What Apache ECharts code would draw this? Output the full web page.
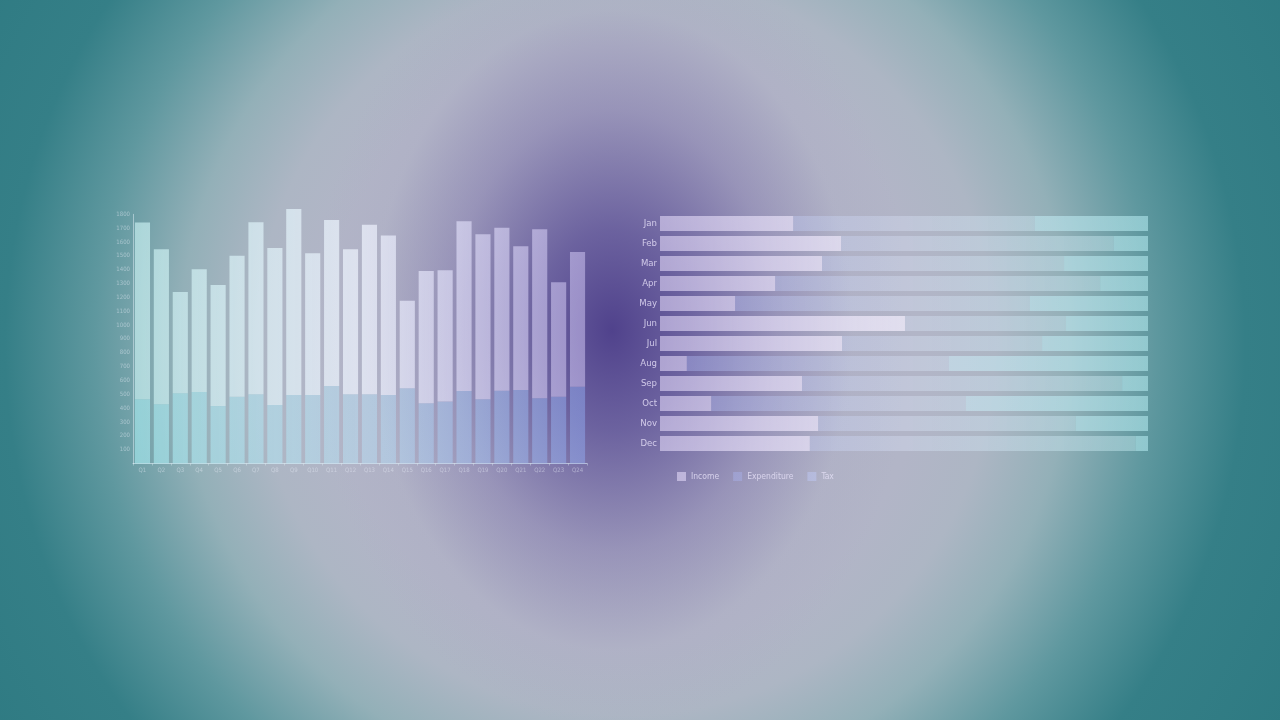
<!DOCTYPE html>
<html><head><meta charset="utf-8">
<script src="https://cdn.jsdelivr.net/npm/echarts@6/dist/echarts.min.js"></script>
<style>
html,body{margin:0;padding:0;width:1280px;height:720px;overflow:hidden;background:#2e7a82;}
#bg{position:absolute;left:0;top:0;width:1280px;height:720px;
background:
 radial-gradient(ellipse 300px 400px at 612px 330px, rgba(80,66,140,1) 0%, rgba(92,80,150,0.82) 25%, rgba(125,115,170,0.5) 55%, rgba(165,162,192,0.18) 80%, rgba(178,180,199,0) 100%),
 radial-gradient(circle 760px at 625px 345px, #b4b4c8 0px, #b2b5c7 300px, #adb6c4 370px, #93b0b8 445px, #5f989f 530px, #357f87 620px, #2e7a82 760px);}
#chart{position:absolute;left:0;top:0;width:1280px;height:720px;}
</style></head>
<body>
<div id="bg"></div>
<div id="chart"></div>
<script>
// ---- Left chart data ----
var quarters = ['Q1','Q2','Q3','Q4','Q5','Q6','Q7','Q8','Q9','Q10','Q11','Q12','Q13','Q14','Q15','Q16','Q17','Q18','Q19','Q20','Q21','Q22','Q23','Q24'];
var baseValues = [464,428,507,517,415,483,500,423,495,495,560,500,500,495,543,435,447,524,464,526,531,471,483,555];
var totalValues = [1740,1548,1239,1403,1290,1501,1743,1557,1839,1519,1759,1548,1725,1646,1176,1391,1396,1750,1656,1702,1569,1692,1309,1528];
var yMin = 0, yMax = 1800, yStep = 100;

// ---- Right chart data (percent of total) ----
var months = ['Jan','Feb','Mar','Apr','May','Jun','Jul','Aug','Sep','Oct','Nov','Dec'];
var income = [27.3,37.1,33.2,23.6,15.4,50.2,37.3,5.5,29.1,10.5,32.4,30.7];
var expenditure = [49.5,55.9,49.6,66.6,60.4,33.0,41.0,53.7,65.6,52.2,52.8,66.8];
var tax = [23.2,7.0,17.2,9.8,24.2,16.8,21.7,40.8,5.3,37.3,14.8,2.5];
var seriesNames = ['Income','Expenditure','Tax'];

var upperValues = totalValues.map(function(t,i){return t - baseValues[i];});

var FONT = "'Liberation Sans Narrow','DejaVu Sans Condensed','Roboto Condensed','Liberation Sans',sans-serif";

function lg(x, x2, stops){
  return {type:'linear', x:x, y:0, x2:x2, y2:0, global:true,
    colorStops: stops.map(function(s){return {offset:s[0], color:s[1]};})};
}

var chart = echarts.init(document.getElementById('chart'), null, {renderer:'canvas'});
chart.setOption({
  backgroundColor: 'transparent',
  animation: false,
  legend: {
    data: seriesNames,
    left: 672, top: 467,
    itemWidth: 9, itemHeight: 9, itemGap: 14,
    icon: 'rect',
    textStyle: {color:'rgba(230,225,248,0.8)', fontSize: 8.5, fontFamily: FONT}
  },
  grid: [
    {left:133, right:693, top:214.3, bottom:256.5, containLabel:false},
    {left:660, right:132, top:213.5, bottom:266.5, containLabel:false}
  ],
  xAxis: [
    {type:'category', gridIndex:0, data: quarters,
      axisLine:{show:true, lineStyle:{color:'rgba(225,240,248,0.6)', width:1}},
      axisTick:{show:true, length:2, lineStyle:{color:'rgba(225,240,248,0.4)'}},
      axisLabel:{interval:0, color:'rgba(235,240,250,0.45)', fontSize:6, margin:4, fontFamily: FONT}
    },
    {type:'value', gridIndex:1, min:0, max:100, show:false}
  ],
  yAxis: [
    {type:'value', gridIndex:0, min:yMin, max:yMax, interval:yStep,
      axisLine:{show:true, lineStyle:{color:'rgba(225,240,248,0.5)', width:1}},
      axisTick:{show:false},
      splitLine:{show:false},
      axisLabel:{showMinLabel:false, color:'rgba(235,240,250,0.45)', fontSize:6, margin:3, fontFamily: FONT,
        formatter: function(v){ return String(v); }}
    },
    {type:'category', gridIndex:1, data: months, inverse:true,
      axisLine:{show:false}, axisTick:{show:false}, splitLine:{show:false},
      axisLabel:{color:'rgba(232,226,250,0.8)', fontSize:9.5, margin:3, fontFamily: FONT}
    }
  ],
  series: [
    {type:'bar', name:'base', xAxisIndex:0, yAxisIndex:0, stack:'q', data: baseValues,
      barCategoryGap:'20%', clip:false,
      itemStyle:{color: lg(133,587,[[0,'rgba(170,240,245,0.6)'],[0.5,'rgba(185,225,245,0.5)'],[1,'rgba(145,170,240,0.5)']])}
    },
    {type:'bar', name:'upper', xAxisIndex:0, yAxisIndex:0, stack:'q', data: upperValues,
      barCategoryGap:'20%', clip:false,
      itemStyle:{color: lg(133,587,[[0,'rgba(210,250,250,0.6)'],[0.5,'rgba(240,245,255,0.7)'],[1,'rgba(215,205,250,0.5)']])}
    },
    {type:'bar', name:'Income', xAxisIndex:1, yAxisIndex:1, stack:'m', data: income,
      barCategoryGap:'25%',
      itemStyle:{color: lg(660,1148,[[0,'rgba(235,225,255,0.55)'],[0.5,'rgba(245,240,255,0.7)'],[1,'rgba(240,240,255,0.6)']])}
    },
    {type:'bar', name:'Expenditure', xAxisIndex:1, yAxisIndex:1, stack:'m', data: expenditure,
      barCategoryGap:'25%',
      itemStyle:{color: lg(660,1148,[[0,'rgba(170,180,240,0.42)'],[0.5,'rgba(215,225,245,0.4)'],[1,'rgba(200,240,245,0.45)']])}
    },
    {type:'bar', name:'Tax', xAxisIndex:1, yAxisIndex:1, stack:'m', data: tax,
      barCategoryGap:'25%',
      itemStyle:{color: lg(660,1148,[[0,'rgba(190,200,245,0.5)'],[0.5,'rgba(210,235,248,0.55)'],[1,'rgba(185,240,245,0.55)']])}
    }
  ]
});
</script>
</body></html>
